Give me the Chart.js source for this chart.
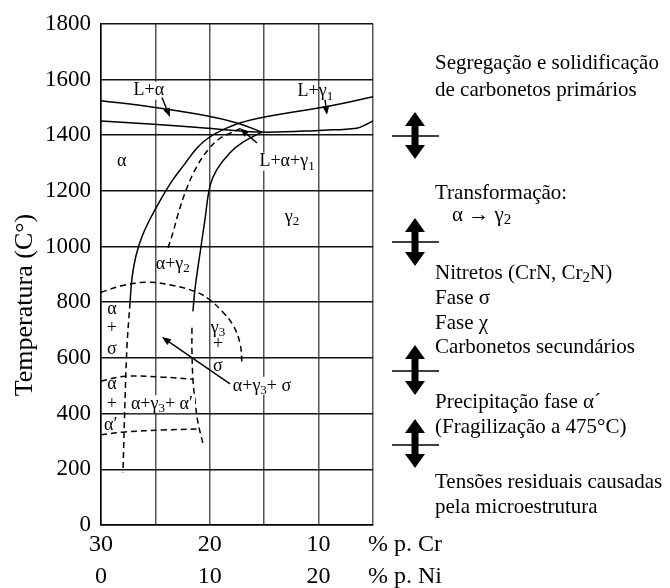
<!DOCTYPE html>
<html><head><meta charset="utf-8">
<script src="https://cdn.jsdelivr.net/npm/chart.js@4.4.1/dist/chart.umd.min.js"></script>
<style>html,body{margin:0;padding:0;background:#fff;}</style>
</head><body>
<canvas id="c" width="670" height="588"></canvas>
<script>
// ---- axis tick labels ----
const crTickValues = [30, 20, 10];
const crTickLabels = ['30', '20', '10'];
const niTickLabels = ['0', '10', '20'];

// ---- phase boundary curves (Cr wt%, temperature °C) ----
const liqAlphaCr = [30, 25.5, 20.2, 17.5, 15.2];
const liqAlphaT  = [1524, 1502, 1469, 1444, 1411];

const solidusCr = [30, 25.5, 20.2, 15.2, 9.6, 6.5, 5.55, 5.0];
const solidusT  = [1451, 1440, 1425, 1411, 1418, 1425, 1440, 1451];

const alphaSolvusCr = [27.33, 27.15, 26.78, 26.23, 25.5, 24.58, 23.48, 22.28, 21.18, 20.17, 18.88, 17.23, 14.47, 11.71, 8.96, 5.0];
const alphaSolvusT  = [800, 888, 968, 1036, 1098, 1164, 1235, 1298, 1354, 1389, 1418, 1444, 1469, 1487, 1505, 1538];

const gammaSolvusCr = [21.55, 21.36, 20.9, 20.44, 19.98, 19.34, 18.14, 16.95, 15.2];
const gammaSolvusT  = [767, 848, 976, 1098, 1218, 1277, 1337, 1375, 1411];

const midDashCr = [23.84, 23.38, 22.92, 22.1, 21.18, 20.17, 19.06, 18.14, 17.13];
const midDashT  = [996, 1051, 1116, 1211, 1288, 1347, 1389, 1407, 1425];

const lowAlphaDashCr = [27.33, 27.61, 27.8, 27.98];
const lowAlphaDashT  = [800, 643, 438, 189];

const sigmaDomeCr = [30, 27.98, 25.77, 23.38, 21.18, 19.98, 18.79, 17.87, 17.22, 17.04];
const sigmaDomeT  = [836, 860, 872, 860, 836, 808, 764, 718, 652, 576];

const gamma3DashCr = [21.64, 21.64, 21.55, 21.36, 21.09, 20.63];
const gamma3DashT  = [708, 626, 524, 448, 369, 293];

const alphaPrimeTopCr = [30, 27.8, 24.4, 21.55];
const alphaPrimeTopT  = [517, 534, 531, 524];

const alphaPrimeBotCr = [30, 27.8, 24.4, 20.95];
const alphaPrimeBotT  = [324, 334, 341, 345];

// ---- pointer arrows (from -> to) ----
const arrowFromCr = [24.4, 9.41, 15.66, 18.14];
const arrowFromT  = [1535, 1527, 1372, 507];
const arrowToCr   = [23.66, 9.23, 17.23, 24.4];
const arrowToT    = [1465, 1473, 1425, 675];

// ---- region labels ----
const regionLabels = ['L+α', 'L+γ_1', 'L+α+γ_1', 'α', 'γ_2', 'α+γ_2', 'α', '+', 'σ', 'γ_3', '+', 'σ', 'α+γ_3+ σ', 'α', '+', 'α+γ_3+ α′', 'α′'];
const regionCr = [25.6, 10.3, 12.9, 28.1, 12.45, 23.4, 29.0, 29.0, 29.0, 19.25, 19.25, 19.25, 15.2, 29.0, 29.0, 24.4, 29.1];
const regionT  = [1560, 1556, 1305, 1305, 1105, 936, 774, 708, 630, 708, 649, 569, 500, 507, 434, 434, 359];

// ---- right-hand notes ----
const noteLines = ['Segregação e solidificação', 'de carbonetos primários', 'Transformação:', 'α → γ_2',
  'Nitretos (CrN, Cr_2N)', 'Fase σ', 'Fase χ', 'Carbonetos secundários',
  'Precipitação fase α´', '(Fragilização a 475°C)', 'Tensões residuais causadas', 'pela microestrutura'];

const FONT = "'Liberation Serif', 'Times New Roman', serif";

function pts(xs, ys) { return xs.map((x, i) => ({ x: x, y: ys[i] })); }
function curve(xs, ys, dashed) {
  return { data: pts(xs, ys), showLine: true, borderColor: '#000', borderWidth: 1.5,
    pointRadius: 0, tension: 0.4, borderDash: dashed ? [6, 4] : [], fill: false };
}

const datasets = [
  curve(liqAlphaCr, liqAlphaT, false),
  curve(solidusCr, solidusT, false),
  curve(alphaSolvusCr, alphaSolvusT, false),
  curve(gammaSolvusCr, gammaSolvusT, false),
  curve(midDashCr, midDashT, true),
  curve(lowAlphaDashCr, lowAlphaDashT, true),
  curve(sigmaDomeCr, sigmaDomeT, true),
  curve(gamma3DashCr, gamma3DashT, true),
  curve(alphaPrimeTopCr, alphaPrimeTopT, true),
  curve(alphaPrimeBotCr, alphaPrimeBotT, true)
];

// rich text with "_x" subscripts
function parseRich(str) {
  const segs = [];
  let buf = '';
  for (let i = 0; i < str.length; i++) {
    if (str[i] === '_' && i + 1 < str.length) {
      if (buf) segs.push({ t: buf, sub: false });
      buf = '';
      segs.push({ t: str[i + 1], sub: true });
      i++;
    } else buf += str[i];
  }
  if (buf) segs.push({ t: buf, sub: false });
  return segs;
}
function richWidth(ctx, segs, size) {
  let w = 0;
  segs.forEach(s => { ctx.font = (s.sub ? Math.round(size * 0.7) : size) + 'px ' + FONT; w += ctx.measureText(s.t).width; });
  return w;
}
function drawRich(ctx, str, x, y, size, align, bg) {
  const segs = parseRich(str);
  const w = richWidth(ctx, segs, size);
  let cx = align === 'center' ? x - w / 2 : x;
  if (bg) {
    ctx.fillStyle = '#fff';
    ctx.fillRect(cx - 2, y - size * 0.5, w + 4, size * 1.0);
  }
  ctx.textBaseline = 'middle';
  ctx.textAlign = 'left';
  ctx.fillStyle = '#000';
  segs.forEach(s => {
    const fs = s.sub ? Math.round(size * 0.7) : size;
    ctx.font = fs + 'px ' + FONT;
    ctx.fillText(s.t, cx, s.sub ? y + size * 0.25 : y);
    cx += ctx.measureText(s.t).width;
  });
}

function drawArrow(ctx, x1, y1, x2, y2) {
  ctx.strokeStyle = '#000'; ctx.fillStyle = '#000'; ctx.lineWidth = 1.4; ctx.setLineDash([]);
  const a = Math.atan2(y2 - y1, x2 - x1);
  const L = 9, H = 3.5;
  const bx = x2 - L * Math.cos(a), by = y2 - L * Math.sin(a);
  ctx.beginPath(); ctx.moveTo(x1, y1); ctx.lineTo(bx, by); ctx.stroke();
  ctx.beginPath();
  ctx.moveTo(x2, y2);
  ctx.lineTo(bx + H * Math.sin(a), by - H * Math.cos(a));
  ctx.lineTo(bx - H * Math.sin(a), by + H * Math.cos(a));
  ctx.closePath(); ctx.fill();
}

function drawDoubleArrow(ctx, cx, top, bottom, lineY) {
  ctx.fillStyle = '#000'; ctx.strokeStyle = '#000';
  const hw = 10, hh = 14, sw = 3.5;
  ctx.fillRect(cx - sw, top + hh - 1, sw * 2, bottom - top - 2 * hh + 2);
  ctx.beginPath(); ctx.moveTo(cx, top); ctx.lineTo(cx + hw, top + hh); ctx.lineTo(cx - hw, top + hh); ctx.closePath(); ctx.fill();
  ctx.beginPath(); ctx.moveTo(cx, bottom); ctx.lineTo(cx + hw, bottom - hh); ctx.lineTo(cx - hw, bottom - hh); ctx.closePath(); ctx.fill();
  ctx.lineWidth = 1.5; ctx.setLineDash([]);
  ctx.beginPath(); ctx.moveTo(cx - 23, lineY); ctx.lineTo(cx + 24, lineY); ctx.stroke();
}

const bgLabels = ['L+α', 'L+α+γ_1', 'α+γ_3+ σ', 'α+γ_3+ α′'];

const annot = {
  id: 'annot',
  afterDatasetsDraw(chart) {
    const ctx = chart.ctx, xs = chart.scales.x, ys = chart.scales.y;
    ctx.save();
    regionLabels.forEach((t, i) => {
      drawRich(ctx, t, xs.getPixelForValue(regionCr[i]), ys.getPixelForValue(regionT[i]), 18, 'center', bgLabels.includes(t));
    });
    arrowFromCr.forEach((c, i) => {
      drawArrow(ctx, xs.getPixelForValue(c), ys.getPixelForValue(arrowFromT[i]),
        xs.getPixelForValue(arrowToCr[i]), ys.getPixelForValue(arrowToT[i]));
    });
    ctx.restore();
  },
  afterDraw(chart) {
    const ctx = chart.ctx;
    ctx.save();
    // y axis title
    ctx.translate(25, 305); ctx.rotate(-Math.PI / 2);
    ctx.font = '26px ' + FONT; ctx.fillStyle = '#000'; ctx.textAlign = 'center'; ctx.textBaseline = 'middle';
    ctx.fillText('Temperatura (C°)', 0, 0);
    ctx.restore();
    ctx.save();
    // x axis unit labels
    ctx.font = '24px ' + FONT; ctx.fillStyle = '#000'; ctx.textAlign = 'left'; ctx.textBaseline = 'middle';
    ctx.fillText('% p. Cr', 368, 545);
    ctx.fillText('% p. Ni', 368, 577);
    // right-hand notes
    const noteX = [435, 435, 435, 452, 435, 435, 435, 435, 435, 435, 435, 435];
    const noteY = [63, 90, 193, 215, 273, 298, 323, 347, 402, 427, 482, 507];
    noteLines.forEach((t, i) => drawRich(ctx, t, noteX[i], noteY[i], 21, 'left', false));
    drawDoubleArrow(ctx, 415, 112, 159, 136);
    drawDoubleArrow(ctx, 415, 218, 266, 242);
    drawDoubleArrow(ctx, 415, 345, 395, 371);
    drawDoubleArrow(ctx, 415, 419, 468, 445);
    ctx.restore();
  }
};

new Chart(document.getElementById('c'), {
  type: 'scatter',
  data: { datasets: datasets },
  options: {
    responsive: false,
    animation: false,
    layout: { padding: { left: 0, right: 297, top: 18, bottom: 0 } },
    plugins: { legend: { display: false }, tooltip: { enabled: false } },
    scales: {
      x: {
        type: 'linear', min: 5, max: 30, reverse: true,
        afterFit: s => { s.height = 63; },
        grid: { color: '#555', lineWidth: 1.5, drawTicks: false },
        border: { color: '#000', width: 1.5 },
        ticks: {
          stepSize: 5, autoSkip: false, maxRotation: 0, padding: 4, color: '#000',
          font: { family: FONT, size: 24, lineHeight: 1.33 },
          callback: v => { const i = crTickValues.indexOf(v); return i < 0 ? '' : [crTickLabels[i], niTickLabels[i]]; }
        }
      },
      y: {
        type: 'linear', min: 0, max: 1800,
        afterFit: s => { s.width = 101; },
        grid: { color: '#111', lineWidth: 1.5, drawTicks: false },
        border: { color: '#000', width: 1.5 },
        ticks: { stepSize: 200, padding: 10, color: '#000', font: { family: FONT, size: 23 },
          callback: v => String(v) }
      }
    }
  },
  plugins: [annot]
});
</script>
</body></html>
